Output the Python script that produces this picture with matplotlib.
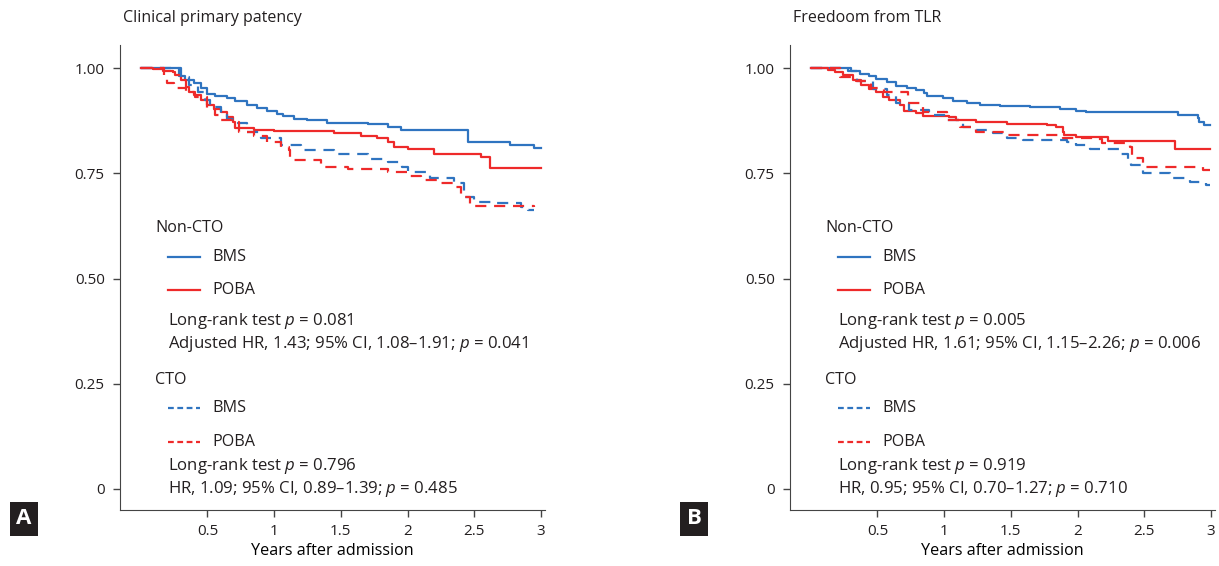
import matplotlib.pyplot as plt
from matplotlib.lines import Line2D

plt.rcParams['font.family'] = ['Open Sans', 'DejaVu Sans']
plt.rcParams['font.size'] = 11.6
plt.rcParams['text.color'] = '#231f20'
plt.rcParams['axes.edgecolor'] = '#444444'
plt.rcParams['xtick.color'] = '#444444'
plt.rcParams['ytick.color'] = '#444444'
plt.rcParams['xtick.labelcolor'] = '#231f20'
plt.rcParams['ytick.labelcolor'] = '#231f20'
plt.rcParams['mathtext.fontset'] = 'custom'
plt.rcParams['mathtext.it'] = 'Open Sans:italic'
plt.rcParams['mathtext.rm'] = 'Open Sans'

BLUE = '#2f74c0'
RED = '#ee2a2a'
W, H = 1219, 566

# ---- panel A: clinical primary patency (years, survival) ----
a_bms_t = [0, 0.29, 0.33, 0.40, 0.45, 0.50, 0.56, 0.65, 0.71, 0.80, 0.87, 0.95, 1.02, 1.07,
           1.15, 1.25, 1.40, 1.70, 1.85, 1.95, 2.05, 2.45, 2.77, 2.95, 3.0]
a_bms_s = [1.0, 0.982, 0.973, 0.965, 0.953, 0.938, 0.934, 0.930, 0.922, 0.912, 0.906, 0.898,
           0.892, 0.886, 0.880, 0.876, 0.870, 0.867, 0.859, 0.852, 0.852, 0.825, 0.818, 0.810, 0.810]
a_poba_t = [0, 0.09, 0.17, 0.24, 0.26, 0.30, 0.34, 0.36, 0.40, 0.45, 0.50, 0.55, 0.60, 0.65,
            0.69, 0.71, 0.85, 1.00, 1.45, 1.65, 1.77, 1.85, 1.90, 2.00, 2.20, 2.55, 2.62, 3.0]
a_poba_s = [1.0, 0.997, 0.993, 0.990, 0.983, 0.971, 0.956, 0.944, 0.936, 0.924, 0.912, 0.904,
            0.896, 0.884, 0.872, 0.857, 0.853, 0.851, 0.845, 0.838, 0.833, 0.825, 0.813, 0.807,
            0.797, 0.789, 0.762, 0.762]
a_cto_bms_t = [0, 0.30, 0.36, 0.43, 0.48, 0.52, 0.60, 0.65, 0.72, 0.80, 0.90, 1.05, 1.20, 1.45,
               1.70, 1.85, 1.96, 2.00, 2.17, 2.35, 2.42, 2.50, 2.67, 2.85, 2.90, 2.95]
a_cto_bms_s = [1.0, 0.979, 0.960, 0.944, 0.924, 0.908, 0.892, 0.880, 0.870, 0.849, 0.835, 0.817,
               0.805, 0.797, 0.785, 0.777, 0.766, 0.754, 0.738, 0.726, 0.694, 0.682, 0.679, 0.670,
               0.664, 0.664]
a_cto_poba_t = [0, 0.175, 0.20, 0.25, 0.34, 0.41, 0.50, 0.56, 0.60, 0.71, 0.74, 0.85, 0.95, 1.05,
                1.11, 1.12, 1.35, 1.55, 1.85, 2.02, 2.10, 2.25, 2.36, 2.40, 2.47, 2.95]
a_cto_poba_s = [1.0, 0.979, 0.964, 0.954, 0.944, 0.932, 0.904, 0.888, 0.876, 0.872, 0.849, 0.838,
                0.825, 0.813, 0.805, 0.781, 0.766, 0.760, 0.754, 0.743, 0.734, 0.726, 0.718, 0.694,
                0.672, 0.670]

# ---- panel B: freedom from TLR ----
b_bms_t = [0, 0.30, 0.37, 0.44, 0.49, 0.57, 0.64, 0.72, 0.79, 0.85, 0.87, 0.99, 1.07, 1.17,
           1.27, 1.42, 1.64, 1.87, 1.99, 2.06, 2.75, 2.90, 2.91, 2.95, 2.99]
b_bms_s = [1.0, 0.994, 0.985, 0.982, 0.974, 0.966, 0.958, 0.954, 0.948, 0.940, 0.934, 0.930,
           0.922, 0.917, 0.913, 0.911, 0.907, 0.903, 0.899, 0.895, 0.889, 0.881, 0.872, 0.866, 0.866]
b_poba_t = [0, 0.13, 0.18, 0.24, 0.32, 0.38, 0.44, 0.49, 0.54, 0.59, 0.67, 0.70, 0.79, 0.84,
            1.04, 1.09, 1.24, 1.47, 1.77, 1.84, 1.89, 1.90, 1.99, 2.23, 2.73, 2.99]
b_poba_s = [1.0, 0.996, 0.990, 0.983, 0.971, 0.959, 0.951, 0.943, 0.932, 0.924, 0.912, 0.899,
            0.893, 0.887, 0.884, 0.877, 0.872, 0.868, 0.866, 0.860, 0.848, 0.840, 0.836, 0.827,
            0.807, 0.807]
b_cto_bms_t = [0, 0.28, 0.35, 0.47, 0.57, 0.64, 0.74, 0.89, 1.02, 1.14, 1.24, 1.37, 1.47, 1.59,
               1.92, 1.99, 2.09, 2.31, 2.38, 2.40, 2.49, 2.69, 2.84, 2.96, 2.99]
b_cto_bms_s = [1.0, 0.994, 0.970, 0.951, 0.936, 0.918, 0.900, 0.888, 0.877, 0.861, 0.854, 0.845,
               0.835, 0.829, 0.825, 0.817, 0.808, 0.796, 0.781, 0.770, 0.751, 0.738, 0.730, 0.722,
               0.722]
b_cto_poba_t = [0, 0.22, 0.34, 0.455, 0.55, 0.73, 0.84, 1.02, 1.12, 1.24, 1.47, 1.89, 2.14,
                2.18, 2.39, 2.41, 2.49, 2.94, 2.99]
b_cto_poba_s = [1.0, 0.979, 0.969, 0.953, 0.944, 0.916, 0.896, 0.877, 0.861, 0.849, 0.841, 0.835,
                0.831, 0.821, 0.812, 0.786, 0.766, 0.758, 0.758]

x_ticks = [0.5, 1, 1.5, 2, 2.5, 3]
x_tick_labels = ['0.5', '1', '1.5', '2', '2.5', '3']
y_ticks = [0, 0.25, 0.5, 0.75, 1.0]
y_tick_labels = ['0', '0.25', '0.50', '0.75', '1.00']

titles = ['Clinical primary patency', 'Freedoom from TLR']
panel_letters = ['A', 'B']
stats_noncto = [['Long-rank test $\\it{p}$ = 0.081',
                 'Adjusted HR, 1.43; 95% CI, 1.08–1.91; $\\it{p}$ = 0.041'],
                ['Long-rank test $\\it{p}$ = 0.005',
                 'Adjusted HR, 1.61; 95% CI, 1.15–2.26; $\\it{p}$ = 0.006']]
stats_cto = [['Long-rank test $\\it{p}$ = 0.796',
              'HR, 1.09; 95% CI, 0.89–1.39; $\\it{p}$ = 0.485'],
             ['Long-rank test $\\it{p}$ = 0.919',
              'HR, 0.95; 95% CI, 0.70–1.27; $\\it{p}$ = 0.710']]

fig = plt.figure(figsize=(W / 100, H / 100), dpi=100)


def fx(px):
    return px / W


def fy(py):
    return 1 - py / H


panels = [
    (120, (a_bms_t, a_bms_s), (a_poba_t, a_poba_s), (a_cto_bms_t, a_cto_bms_s), (a_cto_poba_t, a_cto_poba_s)),
    (790, (b_bms_t, b_bms_s), (b_poba_t, b_poba_s), (b_cto_bms_t, b_cto_bms_s), (b_cto_poba_t, b_cto_poba_s)),
]

STAT_FS = 12.1

for i, (left, bms, poba, cbms, cpoba) in enumerate(panels):
    ax = fig.add_axes([fx(left), fy(510), fx(425), 465 / H])
    ax.step(bms[0], bms[1], where='post', color=BLUE, lw=1.6)
    ax.step(poba[0], poba[1], where='post', color=RED, lw=1.6)
    ax.step(cbms[0], cbms[1], where='post', color=BLUE, lw=1.6, dashes=(5, 3.5))
    ax.step(cpoba[0], cpoba[1], where='post', color=RED, lw=1.6, dashes=(5, 3.5))

    ax.set_xlim(-0.155, 3.03)
    ax.set_ylim(-0.05, 1.055)
    ax.set_xticks(x_ticks, x_tick_labels)
    ax.set_yticks(y_ticks, y_tick_labels)
    ax.tick_params(axis='both', length=5, width=1, labelsize=11)
    ax.tick_params(axis='x', pad=5)
    ax.tick_params(axis='y', pad=6)
    ax.spines['top'].set_visible(False)
    ax.spines['right'].set_visible(False)
    ax.set_xlabel('Years after admission', fontsize=11.6, labelpad=3)

    fig.text(fx(left + 3), fy(18), titles[i], fontsize=11.5, va='center', ha='left')

    # panel letter box
    fig.text(fx(left - 96), fy(519), panel_letters[i], fontsize=16, fontweight='bold',
             color='white', ha='center', va='center',
             bbox=dict(boxstyle='square,pad=0.28', fc='#231f20', ec='none'))

    # legend block
    tx = left + 35
    lx = left + 48
    fig.text(fx(tx), fy(228), 'Non-CTO', va='center')
    fig.add_artist(Line2D([fx(lx), fx(lx + 32)], [fy(257), fy(257)], color=BLUE, lw=1.6))
    fig.text(fx(lx + 44), fy(257), 'BMS', va='center')
    fig.add_artist(Line2D([fx(lx), fx(lx + 32)], [fy(290), fy(290)], color=RED, lw=1.6))
    fig.text(fx(lx + 44), fy(290), 'POBA', va='center')
    fig.text(fx(lx), fy(321), stats_noncto[i][0], va='center', fontsize=STAT_FS)
    fig.text(fx(lx), fy(344), stats_noncto[i][1], va='center', fontsize=STAT_FS)
    fig.text(fx(tx), fy(380), 'CTO', va='center')
    fig.add_artist(Line2D([fx(lx), fx(lx + 32)], [fy(408), fy(408)], color=BLUE, lw=1.6,
                          dashes=(2.6, 1.6)))
    fig.text(fx(lx + 44), fy(408), 'BMS', va='center')
    fig.add_artist(Line2D([fx(lx), fx(lx + 32)], [fy(442), fy(442)], color=RED, lw=1.6,
                          dashes=(2.6, 1.6)))
    fig.text(fx(lx + 44), fy(442), 'POBA', va='center')
    fig.text(fx(lx), fy(466), stats_cto[i][0], va='center', fontsize=STAT_FS)
    fig.text(fx(lx), fy(489), stats_cto[i][1], va='center', fontsize=STAT_FS)

fig.savefig('out.png', dpi=100)
